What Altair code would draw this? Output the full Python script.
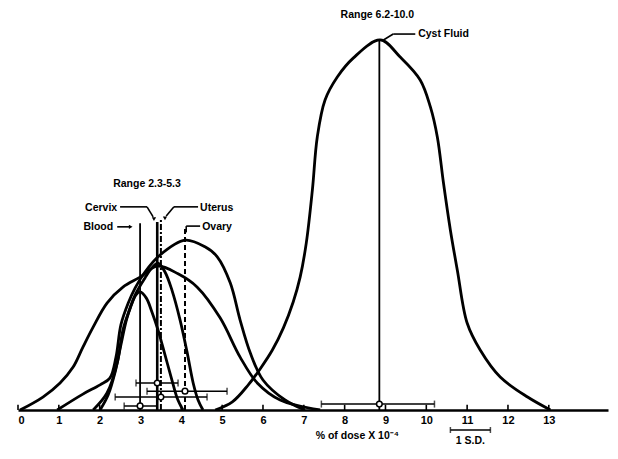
import altair as alt
import pandas as pd

# ---------------- data ----------------
# x: % of dose x 10^-4 ; y: relative frequency (cyst fluid peak = 100)
cyst_x = [4.83, 5.25, 5.64, 5.93, 6.23, 6.50, 6.74, 6.91, 7.06, 7.21, 7.33, 7.52, 7.82, 8.21, 8.87,
          9.36, 9.85, 10.10, 10.27, 10.42, 10.59, 10.76, 11.00, 11.32, 11.81, 12.48, 13.04]
cyst_y = [0, 2.2, 6.8, 11.1, 16.2, 22.2, 29.2, 35.9, 45.1, 59.5, 73.8, 83.8, 90.0, 95.1, 100,
          95.4, 89.2, 81.9, 73.8, 61.4, 48.6, 37.8, 23.5, 16.2, 8.9, 3.5, 0]

wide_x = [0.05, 0.61, 1.03, 1.35, 1.59, 1.84, 2.18, 2.57, 2.99, 3.41, 3.92, 4.39, 4.95, 5.44, 5.86, 6.42, 7.40]
wide_y = [0, 3.5, 7.3, 11.6, 17.0, 22.4, 28.9, 33.2, 35.9, 38.9, 36.8, 33.2, 24.9, 14.3, 7.3, 2.7, 0]

ovary_x = [0.96, 1.59, 2.01, 2.25, 2.40, 2.52, 2.70, 2.87, 3.11, 3.48, 4.09, 4.58, 4.88, 5.20,
           5.44, 5.69, 6.00, 6.54, 7.03]
ovary_y = [0, 4.3, 6.8, 8.6, 14.3, 23.0, 28.9, 33.0, 37.3, 41.9, 45.9, 44.1, 41.4, 34.3,
           24.3, 15.4, 8.1, 2.7, 0]

blood_x = [1.84, 2.18, 2.43, 2.57, 2.75, 2.89, 2.99, 3.14, 3.28, 3.43, 3.60, 3.77, 3.90, 4.04]
blood_y = [0, 4.6, 12.7, 21.6, 27.6, 31.1, 31.9, 30.3, 26.5, 21.6, 14.9, 8.1, 3.2, 0]

cervix_x = [2.01, 2.21, 2.38, 2.52, 2.67, 2.87, 3.11, 3.28, 3.43, 3.60, 3.77, 3.97, 4.14, 4.29, 4.41, 4.53]
cervix_y = [0, 4.1, 10.3, 17.6, 24.9, 31.1, 35.7, 38.4, 39.7, 37.3, 32.4, 24.3, 15.7, 7.3, 2.7, 0]

# means and +/- 1 S.D. bars
bar_names = ["Cervix", "Ovary", "Uterus", "Blood", "Cyst Fluid"]
bar_mean = [3.41, 4.09, 3.50, 2.99, 8.85]
bar_lo = [2.89, 3.16, 2.38, 2.60, 7.43]
bar_hi = [3.92, 5.12, 4.63, 3.41, 10.20]
bar_level = [7.3, 5.1, 3.5, 1.1, 1.6]

# vertical mean lines
solid_x = [2.99, 8.85]
solid_top = [50.5, 100]
cervix_line_x = [3.41]
cervix_line_top = [50.8]
uterus_line_x = [3.50]
uterus_line_top = [51.4]
ovary_line_x = [4.09]
ovary_line_top = [49.7]

tick_values = list(range(14))

# labels
label_text = ["Range 6.2-10.0", "Range 2.3-5.3"]
label_x = [8.80, 3.16]
label_y = [106.8, 61.1]
left_text = ["Cyst Fluid", "Uterus", "Ovary"]
left_x = [9.80, 4.46, 4.51]
left_y = [101.6, 54.6, 49.5]
right_text = ["Cervix", "Blood"]
right_x = [2.43, 2.33]
right_y = [54.6, 49.5]

# leader segments (x1, y1, x2, y2)
seg_x1 = [2.50, 3.16, 4.41, 3.82, 2.43, 4.46, 4.12, 8.95, 9.19]
seg_y1 = [54.9, 54.9, 54.9, 54.9, 49.5, 49.7, 49.7, 100.0, 101.6]
seg_x2 = [3.16, 3.31, 3.82, 3.63, 2.72, 4.12, 4.12, 9.19, 9.73]
seg_y2 = [54.9, 52.2, 54.9, 52.4, 49.5, 49.7, 48.0, 101.6, 101.6]

# ---------------- build tables ----------------
curves = []
for name, xs, ys in [("cyst", cyst_x, cyst_y), ("wide", wide_x, wide_y), ("ovary", ovary_x, ovary_y),
                     ("blood", blood_x, blood_y), ("cervix", cervix_x, cervix_y)]:
    for a, b in zip(xs, ys):
        curves.append({"curve": name, "x": a, "y": b})
curves = pd.DataFrame(curves)

bars = pd.DataFrame({"name": bar_names, "mean": bar_mean, "lo": bar_lo, "hi": bar_hi, "y": bar_level})

X = alt.Scale(domain=[0, 14.45], nice=False, zero=False)
Y = alt.Scale(domain=[0, 108.1], nice=False, zero=False)
FONT = "Liberation Sans"
FS = 10.5

xaxis = alt.Axis(values=tick_values, ticks=False, grid=False, title=None, domainColor="black",
                 domainWidth=2.5, labelFont=FONT, labelFontWeight="bold", labelFontSize=11,
                 labelColor="black", labelPadding=4, format="d")

curve_layer = alt.Chart(curves).mark_line(color="black", strokeWidth=2.8, interpolate="catmull-rom",
                                          clip=True).encode(
    x=alt.X("x:Q", scale=X, axis=xaxis),
    y=alt.Y("y:Q", scale=Y, axis=None),
    detail="curve:N",
)

def vlines(xs, tops, **kw):
    df = pd.DataFrame({"x": xs, "y0": [0] * len(xs), "y1": tops})
    return alt.Chart(df).mark_rule(color="black", **kw).encode(
        x=alt.X("x:Q", scale=X), y=alt.Y("y0:Q", scale=Y), y2="y1:Q")

solid_l = vlines(solid_x, solid_top, strokeWidth=1.8)
cervix_l = vlines(cervix_line_x, cervix_line_top, strokeWidth=2.6)
uterus_l = vlines(uterus_line_x, uterus_line_top, strokeWidth=2.0, strokeDash=[6, 2, 2, 2])
ovary_l = vlines(ovary_line_x, ovary_line_top, strokeWidth=2.0, strokeDash=[5, 3])

ticks_df = pd.DataFrame({"x": tick_values, "y0": [0] * len(tick_values), "y1": [1.4] * len(tick_values)})
tick_l = alt.Chart(ticks_df).mark_rule(color="black", strokeWidth=1.6).encode(
    x=alt.X("x:Q", scale=X), y=alt.Y("y0:Q", scale=Y), y2="y1:Q")

bar_rule = alt.Chart(bars).mark_rule(color="black", strokeWidth=1.5).encode(
    x=alt.X("lo:Q", scale=X), x2="hi:Q", y=alt.Y("y:Q", scale=Y))
cap_lo = alt.Chart(bars).mark_tick(color="black", orient="vertical", size=7, thickness=1.5).encode(
    x=alt.X("lo:Q", scale=X), y=alt.Y("y:Q", scale=Y))
cap_hi = alt.Chart(bars).mark_tick(color="black", orient="vertical", size=7, thickness=1.5).encode(
    x=alt.X("hi:Q", scale=X), y=alt.Y("y:Q", scale=Y))
bar_pt = alt.Chart(bars).mark_point(shape="circle", filled=True, fill="white", stroke="black",
                                    strokeWidth=1.5, size=32, opacity=1).encode(
    x=alt.X("mean:Q", scale=X), y=alt.Y("y:Q", scale=Y))

segs = pd.DataFrame({"x1": seg_x1, "y1": seg_y1, "x2": seg_x2, "y2": seg_y2})
seg_l = alt.Chart(segs).mark_rule(color="black", strokeWidth=1.6).encode(
    x=alt.X("x1:Q", scale=X), y=alt.Y("y1:Q", scale=Y), x2="x2:Q", y2="y2:Q")

arrows = pd.DataFrame({"x": [2.76, 3.33, 3.60], "y": [49.5, 51.6, 51.8],
                       "shape": ["triangle-right", "triangle-down", "triangle-down"]})
arrow_l = alt.Chart(arrows).mark_point(filled=True, color="black", size=18, opacity=1).encode(
    x=alt.X("x:Q", scale=X), y=alt.Y("y:Q", scale=Y),
    shape=alt.Shape("shape:N", scale=None))

tc = pd.DataFrame({"t": label_text, "x": label_x, "y": label_y})
t_center = alt.Chart(tc).mark_text(font=FONT, fontWeight="bold", fontSize=FS, align="center",
                                   baseline="middle", color="black").encode(
    x=alt.X("x:Q", scale=X), y=alt.Y("y:Q", scale=Y), text="t:N")
tl = pd.DataFrame({"t": left_text, "x": left_x, "y": left_y})
t_left = alt.Chart(tl).mark_text(font=FONT, fontWeight="bold", fontSize=FS, align="left",
                                 baseline="middle", color="black").encode(
    x=alt.X("x:Q", scale=X), y=alt.Y("y:Q", scale=Y), text="t:N")
tr = pd.DataFrame({"t": right_text, "x": right_x, "y": right_y})
t_right = alt.Chart(tr).mark_text(font=FONT, fontWeight="bold", fontSize=FS, align="right",
                                  baseline="middle", color="black").encode(
    x=alt.X("x:Q", scale=X), y=alt.Y("y:Q", scale=Y), text="t:N")

# axis title and 1 S.D. scale bar (below the axis)
bottom_text = pd.DataFrame({"t": ["% of dose X 10⁻⁴", "1 S.D."], "x": [8.31, 11.08], "y": [-7.0, -8.4]})
t_bottom = alt.Chart(bottom_text).mark_text(font=FONT, fontWeight="bold", fontSize=FS, align="center",
                                            baseline="middle", color="black").encode(
    x=alt.X("x:Q", scale=X), y=alt.Y("y:Q", scale=Y), text="t:N")
sd = pd.DataFrame({"x1": [10.59], "x2": [11.57], "y": [-5.4]})
sd_rule = alt.Chart(sd).mark_rule(color="black", strokeWidth=1.6).encode(
    x=alt.X("x1:Q", scale=X), x2="x2:Q", y=alt.Y("y:Q", scale=Y))
sd_c1 = alt.Chart(sd).mark_tick(color="black", orient="vertical", size=6, thickness=1.5).encode(
    x=alt.X("x1:Q", scale=X), y=alt.Y("y:Q", scale=Y))
sd_c2 = alt.Chart(sd).mark_tick(color="black", orient="vertical", size=6, thickness=1.5).encode(
    x=alt.X("x2:Q", scale=X), y=alt.Y("y:Q", scale=Y))

chart = alt.layer(
    curve_layer, solid_l, cervix_l, uterus_l, ovary_l, tick_l,
    bar_rule, cap_lo, cap_hi, bar_pt, seg_l, arrow_l,
    t_center, t_left, t_right, t_bottom, sd_rule, sd_c1, sd_c2,
).properties(
    width=590, height=400,
    autosize=alt.AutoSizeParams(type="none"),
    padding={"left": 10, "top": 2, "right": 2, "bottom": 40},
    background="white",
).configure_view(stroke=None)

chart.save("out.html", embed_options={"renderer": "svg", "actions": False})
